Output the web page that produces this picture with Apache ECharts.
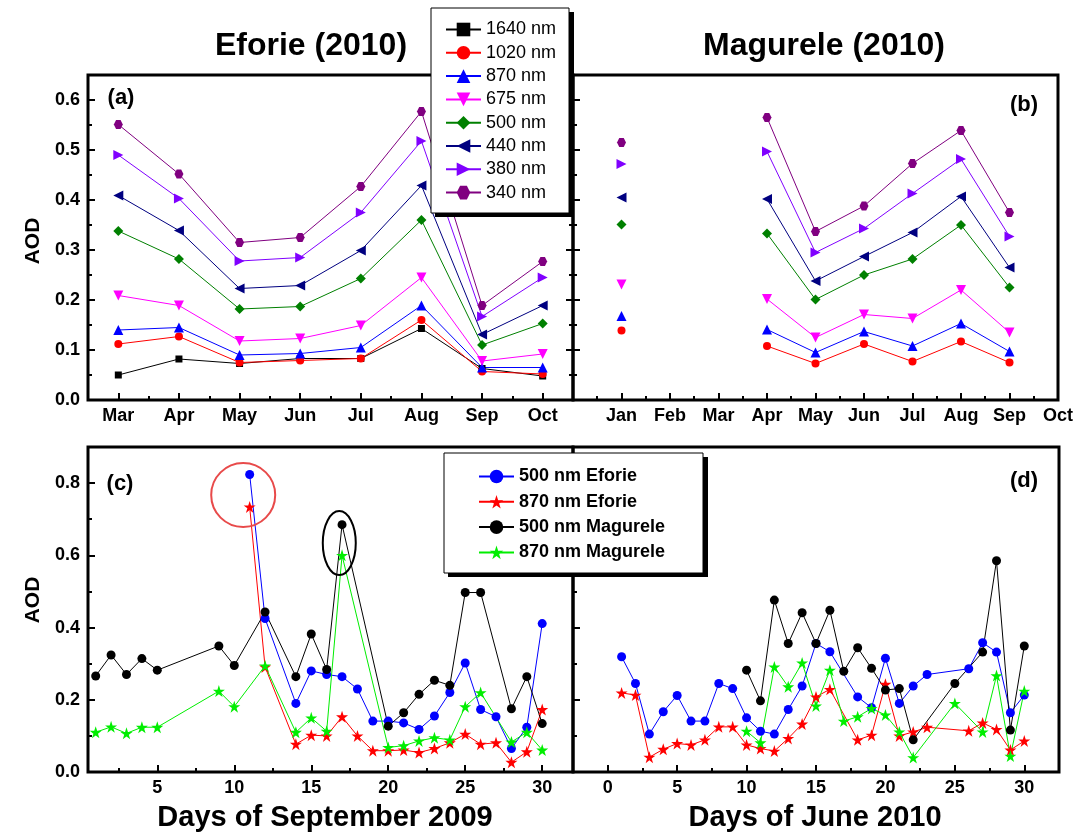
<!DOCTYPE html>
<html><head><meta charset="utf-8">
<script src="https://cdn.jsdelivr.net/npm/echarts@6/dist/echarts.min.js"></script>
<style>html,body{margin:0;padding:0;background:#fff}#c{width:1076px;height:835px}</style>
</head><body><div id="c"></div>
<script>
// ---------------- DATA ----------------
const monthNames = ['Jan','Feb','Mar','Apr','May','Jun','Jul','Aug','Sep','Oct'];
const wavelengths = ['1640 nm','1020 nm','870 nm','675 nm','500 nm','440 nm','380 nm','340 nm'];

// Panel (a) Eforie 2010, months Mar..Oct
const eforieMonths = [3,4,5,6,7,8,9,10];
const eforie1640 = [0.050,0.082,0.073,0.083,0.083,0.143,0.063,0.048];
const eforie1020 = [0.112,0.127,0.075,0.079,0.083,0.160,0.057,0.052];
const eforie870  = [0.140,0.145,0.090,0.093,0.105,0.189,0.065,0.065];
const eforie675  = [0.209,0.189,0.118,0.123,0.149,0.245,0.078,0.092];
const eforie500  = [0.338,0.282,0.182,0.187,0.243,0.360,0.110,0.153];
const eforie440  = [0.409,0.339,0.223,0.229,0.299,0.429,0.131,0.189];
const eforie380  = [0.490,0.403,0.278,0.285,0.375,0.518,0.167,0.245];
const eforie340  = [0.551,0.452,0.315,0.325,0.427,0.577,0.189,0.277];

// Panel (b) Magurele 2010, months Jan..Sep (null = no data)
const magureleMonths = [1,2,3,4,5,6,7,8,9];
const magurele1020 = [0.139,null,null,0.108,0.073,0.112,0.077,0.117,0.075];
const magurele870  = [0.168,null,null,0.141,0.095,0.137,0.108,0.153,0.097];
const magurele675  = [0.231,null,null,0.202,0.125,0.171,0.163,0.220,0.135];
const magurele500  = [0.351,null,null,0.333,0.201,0.250,0.282,0.350,0.225];
const magurele440  = [0.405,null,null,0.402,0.238,0.287,0.335,0.407,0.265];
const magurele380  = [0.472,null,null,0.497,0.295,0.343,0.413,0.482,0.327];
const magurele340  = [0.515,null,null,0.565,0.337,0.388,0.473,0.539,0.375];

// Panel (c) September 2009 daily
const sepEforieDays = [11,12,14,15,16,17,18,19,20,21,22,23,24,25,26,27,28,29,30];
const sepEforie500  = [0.824,0.425,0.190,0.280,0.270,0.264,0.230,0.141,0.141,0.136,0.118,0.155,0.220,0.302,0.173,0.153,0.065,0.124,0.411];
const sepEforie870  = [0.734,0.291,0.077,0.102,0.100,0.153,0.100,0.059,0.059,0.061,0.054,0.065,0.081,0.105,0.077,0.081,0.027,0.056,0.173];
const sepMagureleDays = [1,2,3,4,5,9,10,12,14,15,16,17,20,21,22,23,24,25,26,28,29,30];
const sepMagurele500  = [0.266,0.324,0.270,0.314,0.282,0.349,0.295,0.443,0.264,0.382,0.284,0.685,0.127,0.164,0.215,0.254,0.240,0.497,0.497,0.175,0.264,0.134];
const sepMagurele870  = [0.110,0.125,0.107,0.124,0.124,0.224,0.181,0.294,0.110,0.150,0.113,0.600,0.068,0.073,0.086,0.095,0.089,0.181,0.220,0.083,0.110,0.061];

// Panel (d) June 2010 daily
const junEforieDays = [1,2,3,4,5,6,7,8,9,10,11,12,13,14,15,16,18,19,20,21,22,23,26,27,28,29,30];
const junEforie500  = [0.319,0.245,0.105,0.167,0.212,0.141,0.141,0.245,0.231,0.150,0.113,0.105,0.173,0.238,0.356,0.333,0.208,0.178,0.315,0.190,0.238,0.270,0.286,0.358,0.332,0.164,0.213];
const junEforie870  = [0.219,0.213,0.041,0.063,0.079,0.075,0.089,0.125,0.125,0.075,0.065,0.058,0.093,0.133,0.208,0.229,0.089,0.102,0.243,0.100,0.111,0.124,0.114,0.136,0.118,0.061,0.086];
const junMagureleDays = [10,11,12,13,14,15,16,17,18,19,20,21,22,25,27,28,29,30];
const junMagurele500  = [0.282,0.197,0.476,0.356,0.441,0.356,0.448,0.279,0.344,0.287,0.227,0.231,0.089,0.245,0.332,0.585,0.116,0.349];
const junMagurele870  = [0.113,0.081,0.291,0.236,0.302,0.183,0.282,0.141,0.153,0.176,0.158,0.111,0.040,0.190,0.111,0.267,0.044,0.224];

const dayLegend = ['500 nm Eforie','870 nm Eforie','500 nm Magurele','870 nm Magurele'];

// axis tick values
const aMonthTicks = [3,4,5,6,7,8,9,10];
const aMonthMinor = [3.5,4.5,5.5,6.5,7.5,8.5,9.5];
const bMonthTicks = [1,2,3,4,5,6,7,8,9,10];
const bMonthMinor = [0.5,1.5,2.5,3.5,4.5,5.5,6.5,7.5,8.5,9.5];
const dayTicksC = [5,10,15,20,25,30];
const dayTicksD = [0,5,10,15,20,25,30];
const dayMinor = [2.5,7.5,12.5,17.5,22.5,27.5];
const aodTicksTop = [0,0.1,0.2,0.3,0.4,0.5,0.6];
const aodMinorTop = [0.05,0.15,0.25,0.35,0.45,0.55];
const aodTicksBot = [0,0.2,0.4,0.6,0.8];
const aodMinorBot = [0.1,0.3,0.5,0.7];

// ---------------- STYLE ----------------
const F = '"Liberation Sans", Arial, Helvetica, sans-serif';
const HEX = 'path://M25,7 L75,7 L100,50 L75,93 L25,93 L0,50 Z';
const STAR = 'path://M50,0 L61.8,35.3 L99,35.3 L68.8,57.2 L80.3,92.7 L50,70.8 L19.7,92.7 L31.2,57.2 L1,35.3 L38.2,35.3 Z';
const waveStyle = {
  '1640 nm': {symbol:'rect', size:7, rot:0, color:'#000000'},
  '1020 nm': {symbol:'circle', size:8, rot:0, color:'#ff0000'},
  '870 nm':  {symbol:'triangle', size:10, rot:0, color:'#0000ff'},
  '675 nm':  {symbol:'triangle', size:10, rot:180, color:'#ff00ff'},
  '500 nm':  {symbol:'diamond', size:10, rot:0, color:'#008000'},
  '440 nm':  {symbol:'triangle', size:10, rot:90, color:'#000080'},
  '380 nm':  {symbol:'triangle', size:10, rot:-90, color:'#8000ff'},
  '340 nm':  {symbol:HEX, size:9, rot:0, color:'#800080'}
};
const dayStyle = {
  '500 nm Eforie':   {symbol:'circle', size:9, color:'#0000ff'},
  '870 nm Eforie':   {symbol:STAR, size:12, color:'#ff0000'},
  '500 nm Magurele': {symbol:'circle', size:9, color:'#000000'},
  '870 nm Magurele': {symbol:STAR, size:12, color:'#00ee00'}
};

function pairs(xs, ys){ return xs.map((x,i)=>[x, ys[i]==null ? '-' : ys[i]]); }

function mkSeries(name, st, xi, yi, data){
  return {
    type:'line', name, xAxisIndex:xi, yAxisIndex:yi, data,
    symbol:st.symbol, symbolSize:st.size, symbolRotate:st.rot||0,
    showSymbol:true, connectNulls:false, clip:false,
    itemStyle:{color:st.color, borderWidth:0},
    lineStyle:{color:st.color, width:1},
    emphasis:{disabled:true}, animation:false
  };
}

const tickStyle = {color:'#000', width:2};
function axis(grid, min, max, vals, len, pos, label){
  const a = {
    type:'value', gridIndex:grid, min, max, position:pos,
    axisLine:{show:false, onZero:false},
    axisTick:{show:true, inside:true, length:len, customValues:vals, lineStyle:tickStyle},
    axisLabel:{show:false},
    splitLine:{show:false}, minorTick:{show:false}
  };
  if (label) {
    a.axisLabel = Object.assign({show:true, customValues:vals, color:'#000',
      fontFamily:F, fontWeight:'bold', fontSize:18, margin:8}, label);
  }
  return a;
}
const fmtMonth = v => monthNames[Math.round(v)-1] || '';
const fmt1 = v => Number(v).toFixed(1);
const fmtInt = v => String(Math.round(v));

const xAxes = [
  axis(0, 2.5, 10.5, aMonthTicks, 7, 'bottom', {formatter:fmtMonth, margin:7}),
  axis(0, 2.5, 10.5, aMonthMinor, 4, 'bottom'),
  axis(1, 0, 10, bMonthTicks, 7, 'bottom', {formatter:fmtMonth, margin:7}),
  axis(1, 0, 10, bMonthMinor, 4, 'bottom'),
  axis(2, 0.5, 32, dayTicksC, 7, 'bottom', {formatter:fmtInt, margin:7}),
  axis(2, 0.5, 32, dayMinor, 4, 'bottom'),
  axis(3, -2.5, 32.5, dayTicksD, 7, 'bottom', {formatter:fmtInt, margin:7}),
  axis(3, -2.5, 32.5, dayMinor, 4, 'bottom')
];
const yAxes = [
  axis(0, 0, 0.65, aodTicksTop, 7, 'left', {formatter:fmt1}),
  axis(0, 0, 0.65, aodMinorTop, 4, 'left'),
  axis(0, 0, 0.65, aodTicksTop, 7, 'right'),
  axis(0, 0, 0.65, aodMinorTop, 4, 'right'),
  axis(1, 0, 0.65, aodTicksTop, 7, 'left'),
  axis(1, 0, 0.65, aodMinorTop, 4, 'left'),
  axis(2, 0, 0.9, aodTicksBot, 7, 'left', {formatter:fmt1}),
  axis(2, 0, 0.9, aodMinorBot, 4, 'left'),
  axis(3, 0, 0.9, aodTicksBot, 7, 'left'),
  axis(3, 0, 0.9, aodMinorBot, 4, 'left')
];

const gridBase = {show:true, borderColor:'#000', borderWidth:3, backgroundColor:'transparent', containLabel:false};
const grids = [
  Object.assign({left:88, top:75, width:485, height:325}, gridBase),
  Object.assign({left:573, top:75, width:487, height:325}, gridBase),
  Object.assign({left:88, top:447, width:485, height:325}, gridBase),
  Object.assign({left:573, top:447, width:486, height:325}, gridBase)
];

const eforieSets = [eforie1640,eforie1020,eforie870,eforie675,eforie500,eforie440,eforie380,eforie340];
const magureleSets = [null,magurele1020,magurele870,magurele675,magurele500,magurele440,magurele380,magurele340];
const series = [];
wavelengths.forEach((w,i)=>{
  series.push(mkSeries(w, waveStyle[w], 0, 0, pairs(eforieMonths, eforieSets[i])));
});
wavelengths.forEach((w,i)=>{
  if (magureleSets[i]) series.push(mkSeries(w, waveStyle[w], 2, 4, pairs(magureleMonths, magureleSets[i])));
});
const sepSets = [[sepEforieDays,sepEforie500],[sepEforieDays,sepEforie870],[sepMagureleDays,sepMagurele500],[sepMagureleDays,sepMagurele870]];
const junSets = [[junEforieDays,junEforie500],[junEforieDays,junEforie870],[junMagureleDays,junMagurele500],[junMagureleDays,junMagurele870]];
dayLegend.forEach((n,i)=>{ series.push(mkSeries(n, dayStyle[n], 4, 6, pairs(sepSets[i][0], sepSets[i][1]))); });
dayLegend.forEach((n,i)=>{ series.push(mkSeries(n, dayStyle[n], 6, 8, pairs(junSets[i][0], junSets[i][1]))); });

const legends = [
  {data:wavelengths, orient:'vertical', left:445, top:20.5, itemWidth:35, itemHeight:17, itemGap:5.3, padding:0,
   selectedMode:false, z:10, textStyle:{fontFamily:F, fontSize:18, color:'#000', lineHeight:17}},
  {data:dayLegend, orient:'vertical', left:478, top:467.5, itemWidth:35, itemHeight:17, itemGap:7.3, padding:0,
   selectedMode:false, z:10, textStyle:{fontFamily:F, fontSize:18, fontWeight:'bold', color:'#000', lineHeight:17}}
];

const chart = echarts.init(document.getElementById('c'), null, {renderer:'canvas'});
chart.setOption({
  animation:false, backgroundColor:'#fff',
  grid:grids, xAxis:xAxes, yAxis:yAxes, series, legend:legends
});

function txt(x, y, s, size, extra){
  return Object.assign({type:'text', x, y, z:20, silent:true,
    style:{text:s, fill:'#000', font:'bold '+size+'px '+F, textAlign:'center', textVerticalAlign:'middle'}}, extra||{});
}
const redC = chart.convertToPixel({xAxisIndex:4, yAxisIndex:6}, [10.58, 0.767]);
const blkC = chart.convertToPixel({xAxisIndex:4, yAxisIndex:6}, [16.82, 0.634]);
chart.setOption({
  graphic:[
    {type:'rect', z:8, silent:true, shape:{x:435, y:12, width:139, height:205}, style:{fill:'#000'}},
    {type:'rect', z:9, silent:true, shape:{x:431, y:8, width:138, height:205}, style:{fill:'#fff', stroke:'#000', lineWidth:1}},
    {type:'rect', z:8, silent:true, shape:{x:448, y:457, width:260, height:120}, style:{fill:'#000'}},
    {type:'rect', z:9, silent:true, shape:{x:444, y:453, width:259, height:120}, style:{fill:'#fff', stroke:'#000', lineWidth:1}},
    {type:'ellipse', z:7, silent:true, shape:{cx:redC[0], cy:redC[1], rx:32, ry:32}, style:{fill:'none', stroke:'#e84a4a', lineWidth:2}},
    {type:'ellipse', z:7, silent:true, shape:{cx:blkC[0], cy:blkC[1], rx:16.5, ry:32}, style:{fill:'none', stroke:'#000', lineWidth:2}},
    txt(311, 46, 'Eforie (2010)', 32),
    txt(824, 46, 'Magurele (2010)', 32),
    txt(33, 241, 'AOD', 21, {rotation:Math.PI/2}),
    txt(33, 600, 'AOD', 21, {rotation:Math.PI/2}),
    txt(325, 818, 'Days of September 2009', 29),
    txt(815, 818, 'Days of June 2010', 29),
    txt(121, 98, '(a)', 22),
    txt(1024, 105, '(b)', 22),
    txt(120, 484, '(c)', 22),
    txt(1024, 481, '(d)', 22)
  ]
});
</script>
</body></html>
